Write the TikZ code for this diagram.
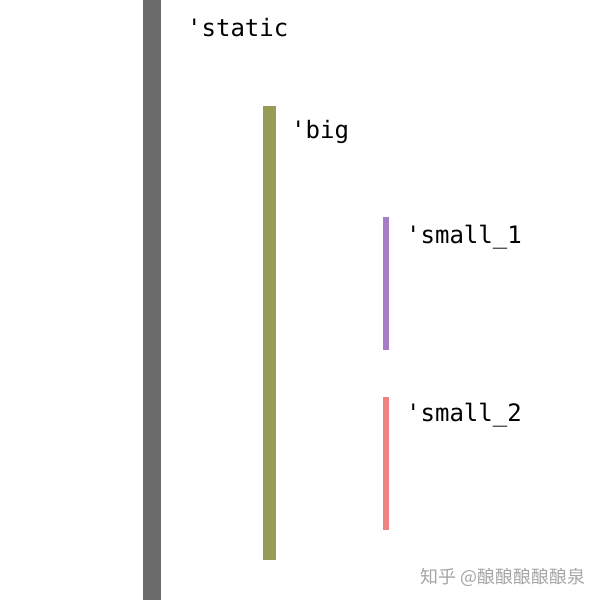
\documentclass[tikz,border=0pt]{standalone}
\usepackage{fontspec}
\setmonofont{DejaVu Sans Mono}
\newfontfamily\cjkfont{Noto Sans CJK SC}
\definecolor{cgray}{RGB}{107,107,107}
\definecolor{colive}{RGB}{151,155,86}
\definecolor{cpurple}{RGB}{166,126,200}
\definecolor{cpink}{RGB}{240,130,130}
\begin{document}
\begin{tikzpicture}[x=1pt,y=-1pt,
  lbl/.style={anchor=base west,inner sep=0pt,font=\ttfamily\fontsize{24}{24}\selectfont}]
\useasboundingbox[fill=white] (0,0) rectangle (600,600);
\fill[cgray] (143,0) rectangle (161,600);
\fill[colive] (263,106) rectangle (276,560);
\fill[cpurple] (383,217) rectangle (389,350);
\fill[cpink] (383,397) rectangle (389,530);
\node[lbl] (static) at (187,36) {'static};
\node[lbl] (big) at (291,138) {'big};
\node[lbl] (s1) at (406,243) {'small\_1};
\node[lbl] (s2) at (406,421) {'small\_2};
\node[anchor=base west,inner sep=0pt,text=black!35,font=\cjkfont\fontsize{18}{18}\selectfont] (wm) at (420,583) {知乎 @酿酿酿酿酿泉};
\end{tikzpicture}
\end{document}
